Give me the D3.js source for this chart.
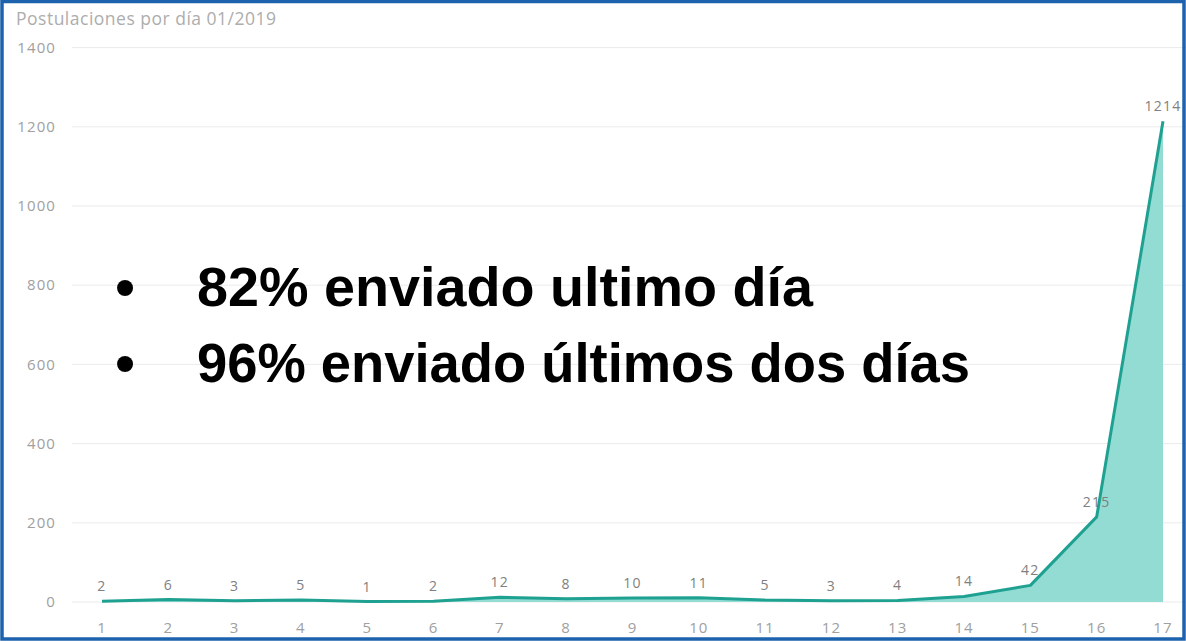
<!DOCTYPE html>
<html>
<head>
<meta charset="utf-8">
<script src="https://cdn.jsdelivr.net/npm/d3@7"></script>
<style>
  html, body { margin: 0; padding: 0; background: #fff; }
  svg { display: block; }
</style>
</head>
<body>
<svg id="chart" width="1186" height="641"></svg>
<script>
const title = "Postulaciones por día 01/2019";
const days = [1,2,3,4,5,6,7,8,9,10,11,12,13,14,15,16,17];
const values = [2,6,3,5,1,2,12,8,10,11,5,3,4,14,42,215,1214];
const yTicks = [0,200,400,600,800,1000,1200,1400];
const notes = ["82% enviado ultimo día", "96% enviado últimos dos días"];

const W = 1186, H = 641;
const svg = d3.select("#chart");

const x = d3.scaleLinear().domain([1, 17]).range([102, 1163]);
const y = d3.scaleLinear().domain([0, 1400]).range([602, 47.6]);

// gridlines
svg.append("g").selectAll("line").data(yTicks).join("line")
  .attr("x1", 72).attr("x2", W)
  .attr("y1", d => y(d)).attr("y2", d => y(d))
  .attr("stroke", "#ebebeb").attr("stroke-width", 1);

// y tick labels
svg.append("g").selectAll("text").data(yTicks).join("text")
  .attr("x", 56).attr("y", d => y(d)).attr("dy", "0.35em")
  .attr("text-anchor", "end")
  .attr("font-family", "'Open Sans', sans-serif").attr("font-size", 15)
  .attr("letter-spacing", 1.1)
  .attr("fill", "#a0a0a0")
  .text(d => d);

// x tick labels
svg.append("g").selectAll("text").data(days).join("text")
  .attr("x", d => x(d)).attr("y", 633)
  .attr("text-anchor", "middle")
  .attr("font-family", "'Open Sans', sans-serif").attr("font-size", 15)
  .attr("letter-spacing", 1.1)
  .attr("fill", "#a0a0a0")
  .text(d => d);

// title
svg.append("text")
  .attr("x", 16).attr("y", 25)
  .attr("font-family", "'Open Sans', sans-serif").attr("font-size", 17.5)
  .attr("letter-spacing", 0.5)
  .attr("fill", "#adadad")
  .text(title);

const pts = days.map((d, i) => ({ d, v: values[i] }));

// area
svg.append("path").datum(pts)
  .attr("d", d3.area().x(p => x(p.d)).y0(y(0)).y1(p => y(p.v)))
  .attr("fill", "#93dcd3");

// data labels
svg.append("g").selectAll("text").data(pts).join("text")
  .attr("x", p => x(p.d)).attr("y", p => y(p.v) - 10)
  .attr("text-anchor", "middle")
  .attr("font-family", "'Open Sans', sans-serif").attr("font-size", 14)
  .attr("letter-spacing", 1.3)
  .attr("fill", "#808080")
  .text(p => p.v);

// line
svg.append("path").datum(pts)
  .attr("d", d3.line().x(p => x(p.d)).y(p => y(p.v)))
  .attr("fill", "none").attr("stroke", "#1fa192").attr("stroke-width", 3)
  .attr("stroke-linejoin", "round");

// overlay notes
const noteWidths = [616, 773];
const ng = svg.append("g")
  .attr("font-family", "'Liberation Sans', Arial, sans-serif")
  .attr("font-weight", "bold").attr("font-size", 56).attr("fill", "#000");
notes.forEach((t, i) => {
  const by = 306 + i * 76;
  ng.append("text").attr("x", 125).attr("y", by).attr("text-anchor", "middle").text("•");
  ng.append("text").attr("x", 197).attr("y", by)
    .attr("textLength", noteWidths[i]).attr("lengthAdjust", "spacingAndGlyphs")
    .text(t);
});

// border
svg.append("rect")
  .attr("x", 2).attr("y", 1.5).attr("width", W - 4).attr("height", H - 3.5)
  .attr("fill", "none").attr("stroke", "#1c62ad").attr("stroke-width", 3.5);
</script>
</body>
</html>
